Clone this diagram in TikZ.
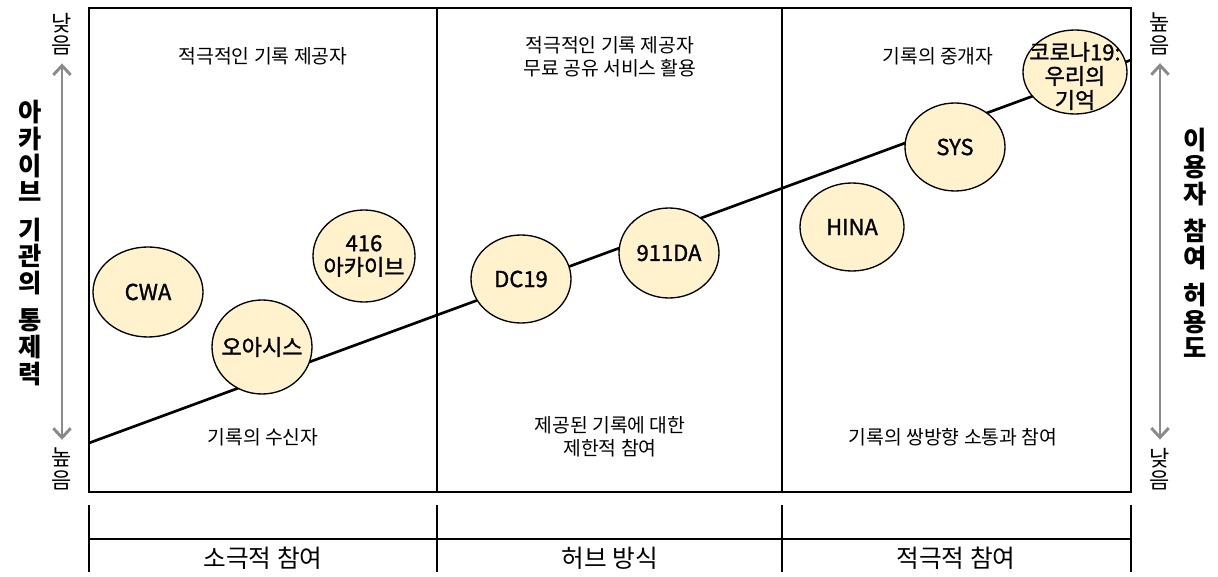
\documentclass[tikz,border=0pt]{standalone}
\usepackage{fontspec}
\setmainfont{Noto Sans CJK KR}
\newfontfamily\sitefont[RawFeature={embolden=1.3}]{Noto Sans CJK KR}
\usepackage{xcolor}
\usetikzlibrary{shapes.geometric, arrows.meta, positioning}
\definecolor{cream}{HTML}{FFF2CC}
\definecolor{axisgray}{HTML}{8A8A8A}
\tikzstyle{site} = [ellipse, draw=black, line width=1pt, fill=cream,
inner sep=0pt]
\tikzstyle{sitetext} = [align=center, inner sep=0pt,
font=\sitefont\fontsize{16.5}{18}\selectfont]
\tikzstyle{role} = [align=center, font=\fontsize{14.5}{17.25}\selectfont]
\tikzstyle{tiny} = [align=center, inner sep=1pt, font=\fontsize{16.5}{17}\selectfont]
\tikzstyle{vtitle} = [align=center, font=\bfseries\fontsize{19}{20}\selectfont]
\tikzstyle{group} = [font=\fontsize{18.5}{20}\selectfont]
\tikzstyle{axis} = [axisgray, line width=2.2pt, shorten <=5pt, shorten >=5pt,
{Straight Barb[length=7pt,width=13pt]}-{Straight Barb[length=7pt,width=13pt]}]

\begin{document}
\begin{tikzpicture}[x=0.75pt, y=-0.75pt]
        \useasboundingbox (0,0) rectangle (1218,577);
        % trend line behind the circles
        \coordinate (tl) at (89,443);
        \coordinate (tr) at (1131,60);
        \draw[line width=2pt] (tl) -- (tr);
        % panels
        \draw[line width=2pt] (89,8) rectangle (1131,492);
        \draw[line width=1.5pt] (437,8) -- (437,492);
        \draw[line width=1.5pt] (782,8) -- (782,492);
        \node[role] (p1top) at (263,56) {적극적인 기록 제공자};
        \node[role] (p1bot) at (263,437) {기록의 수신자};
        \node[role] (p2top) at (610,57) {적극적인 기록 제공자\\무료 공유 서비스 활용};
        \node[role] (p2bot) at (610,437) {제공된 기록에 대한\\제한적 참여};
        \node[role] (p3top) at (938,56) {기록의 중개자};
        \node[role] (p3bot) at (953,437) {기록의 쌍방향 소통과 참여};
        % cases
        \node[site, minimum width=82.5pt, minimum height=67.5pt,
            label={[sitetext]center:CWA}] (cwa) at (148,292) {};
        \node[site, minimum width=75pt, minimum height=70.5pt,
            label={[sitetext]center:오아시스}] (oasis) at (262,347) {};
        \node[site, minimum width=76.5pt, minimum height=69pt,
            label={[sitetext]center:416\\아카이브}] (a416) at (364,256) {};
        \node[site, minimum width=75pt, minimum height=66pt,
            label={[sitetext]center:DC19}] (dc19) at (521,279) {};
        \node[site, minimum width=75pt, minimum height=67.5pt,
            label={[sitetext]center:911DA}] (da911) at (669,253) {};
        \node[site, minimum width=78pt, minimum height=66pt,
            label={[sitetext]center:HINA}] (hina) at (852,227) {};
        \node[site, minimum width=75pt, minimum height=66pt,
            label={[sitetext]center:SYS}] (sys) at (955,147) {};
        \node[site, minimum width=78pt, minimum height=63pt,
            label={[sitetext, yshift=-3pt]center:코로나19:\\우리의\\기억}] (corona) at (1075,72) {};
        % left axis
        \node[tiny] (lowL) at (62,34) {낮\\음};
        \node[tiny] (highL) at (62,469) {높\\음};
        \draw[axis] (lowL) -- (highL);
        \node[vtitle] (ctrl) at (30,243) {아\\카\\이\\브\\[8pt]기\\관\\의\\[8pt]통\\제\\력};
        % right axis
        \node[tiny] (highR) at (1160,34) {높\\음};
        \node[tiny] (lowR) at (1160,469) {낮\\음};
        \draw[axis] (highR) -- (lowR);
        \node[vtitle] (perm) at (1195,243) {이\\용\\자\\[8pt]참\\여\\[8pt]허\\용\\도};
        % bottom brackets
        \draw[line width=1.5pt] (89,539) -- (1131,539);
        \foreach \x in {89,437,782,1131}
            \draw[line width=1.5pt] (\x,505) -- (\x,572);
        \node[group] (g1) at (263,558) {소극적 참여};
        \node[group] (g2) at (610,558) {허브 방식};
        \node[group] (g3) at (956,558) {적극적 참여};
    \end{tikzpicture}
\end{document}
